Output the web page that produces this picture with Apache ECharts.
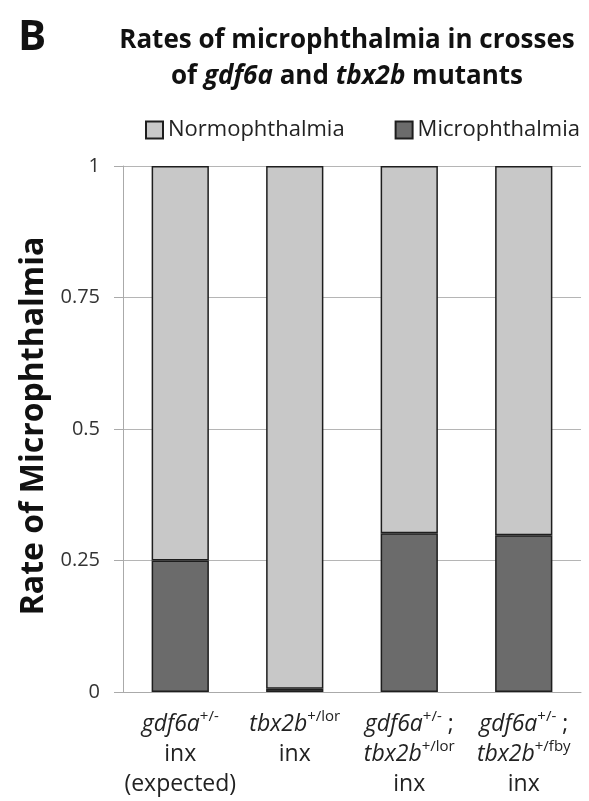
<!DOCTYPE html>
<html><head><meta charset="utf-8">
<script src="https://cdn.jsdelivr.net/npm/echarts@6/dist/echarts.min.js"></script>
<style>html,body{margin:0;padding:0;background:#fff}#c{width:589px;height:801px}</style>
</head><body><div id="c"></div>
<script>
var categories = ['gdf6a+/- inx (expected)', 'tbx2b+/lor inx', 'gdf6a+/-; tbx2b+/lor inx', 'gdf6a+/-; tbx2b+/fby inx'];
var categoryLabels = [
  '{i|gdf6a}{s|+/-}\n{n|inx}\n{n|(expected)}',
  '{i|tbx2b}{s|+/lor}\n{n|inx}',
  '{i|gdf6a}{s|+/-}{n| ;}\n{i|tbx2b}{s|+/lor}\n{n|inx}',
  '{i|gdf6a}{s|+/-}{n| ;}\n{i|tbx2b}{s|+/fby}\n{n|inx}'
];
var microphthalmia = [0.25, 0.006, 0.302, 0.298];
var normophthalmia = [0.75, 0.994, 0.698, 0.702];
var yTicks = [0, 0.25, 0.5, 0.75, 1];

var FONT = 'Open Sans';
var chart = echarts.init(document.getElementById('c'));
chart.setOption({
  animation: false,
  textStyle: {fontFamily: FONT},
  title: [{
    text: 'B', left: 13, top: 12,
    textStyle: {fontSize: 42, fontWeight: 'bold', color: '#111', fontFamily: FONT}
  }, {
    text: '{b|Rates of microphthalmia in crosses}\n{b|of }{bi|gdf6a}{b| and }{bi|tbx2b}{b| mutants}',
    left: 342, top: 18, textAlign: 'center',
    textStyle: {
      fontFamily: FONT, lineHeight: 36,
      rich: {
        b: {fontSize: 26, fontWeight: 'bold', color: '#111', fontFamily: FONT, lineHeight: 36},
        bi: {fontSize: 26, fontWeight: 'bold', fontStyle: 'italic', color: '#111', fontFamily: FONT, lineHeight: 36}
      }
    }
  }],
  legend: {
    top: 114, left: 140, itemGap: 50, itemWidth: 17, itemHeight: 17,
    icon: 'rect',
    textStyle: {fontSize: 22, color: '#222', fontFamily: FONT},
    data: ['Normophthalmia', 'Microphthalmia']
  },
  grid: {left: 123, right: 8, top: 166, bottom: 109, containLabel: false},
  xAxis: {
    type: 'category', data: categories,
    axisLine: {show: true, lineStyle: {color: '#aaa', width: 1}},
    axisTick: {show: false},
    axisLabel: {
      interval: 0, margin: 17, color: '#222',
      formatter: function (v, idx) { return categoryLabels[idx]; },
      rich: {
        i: {fontSize: 23, fontStyle: 'italic', color: '#222', fontFamily: FONT, lineHeight: 30},
        n: {fontSize: 23, color: '#222', fontFamily: FONT, lineHeight: 30},
        s: {fontSize: 15, color: '#222', fontFamily: FONT, verticalAlign: 'top', lineHeight: 30, padding: [0, 0, 4, 0]}
      }
    }
  },
  yAxis: {
    type: 'value', min: 0, max: 1, interval: 0.25,
    name: 'Rate of Microphthalmia', nameLocation: 'middle', nameGap: 73,
    nameTextStyle: {fontSize: 32, fontWeight: 'bold', color: '#111', fontFamily: FONT, padding: [0, 0, 0, 6]},
    axisLine: {show: true, lineStyle: {color: '#aaa', width: 1}},
    axisTick: {show: true, inside: false, length: 9, lineStyle: {color: '#aaa'}},
    axisLabel: {
      margin: 23, fontSize: 20, color: '#333', fontFamily: FONT,
      formatter: function (v) { return yTicks.indexOf(v) >= 0 ? String(v) : ''; }
    },
    splitLine: {show: true, lineStyle: {color: '#b5b5b5', width: 1}}
  },
  series: [{
    name: 'Microphthalmia', type: 'bar', stack: 'a', data: microphthalmia, barWidth: '50%',
    itemStyle: {color: '#6b6b6b', borderColor: '#1e1e1e', borderWidth: 1.5}
  }, {
    name: 'Normophthalmia', type: 'bar', stack: 'a', data: normophthalmia, barWidth: '50%',
    itemStyle: {color: '#c8c8c8', borderColor: '#1e1e1e', borderWidth: 1.5}
  }]
});
</script></body></html>
